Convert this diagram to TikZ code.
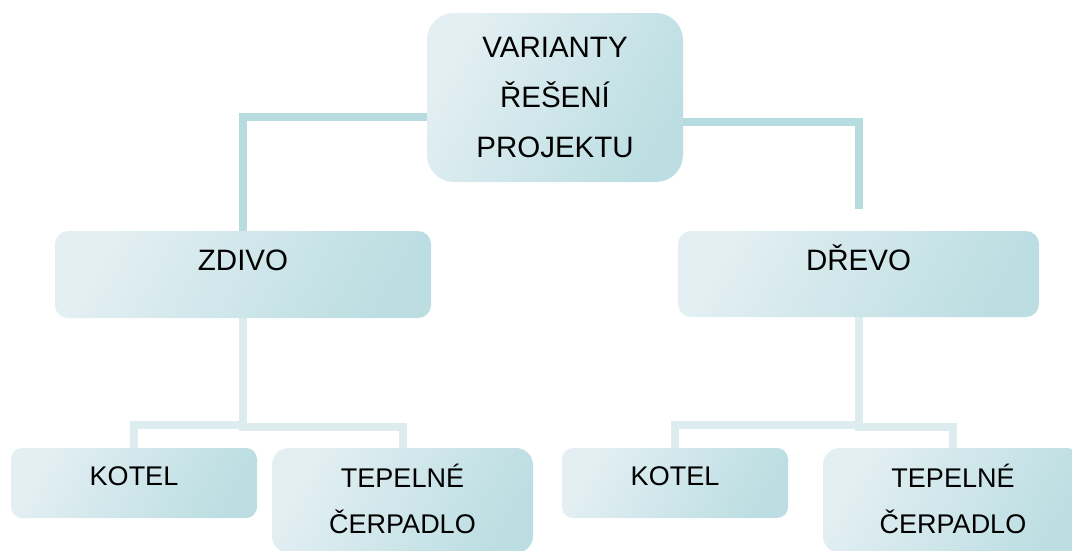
\documentclass[tikz,border=0pt]{standalone}
\usepackage{fontspec}
\setmainfont{Liberation Sans}
\usetikzlibrary{backgrounds}

\definecolor{boxL}{HTML}{E3EFF3}
\definecolor{boxR}{HTML}{BCDEE2}
\definecolor{connTop}{HTML}{B6DCE0}
\definecolor{connLow}{HTML}{DDEDEF}

\tikzset{
  box/.style={rectangle, anchor=north west, inner sep=0pt, outer sep=0pt,
    left color=boxL, right color=boxR, shading angle=60, text=black},
  bigtext/.style={font=\fontsize{29.5pt}{50pt}\selectfont},
  smalltext/.style={font=\fontsize{27pt}{46pt}\selectfont},
  conn/.style={line width=8pt},
  upper/.style={conn, draw=connTop},
  lower/.style={conn, draw=connLow},
}

\newcommand{\lines}[1]{\begin{tabular}[t]{@{}c@{}}#1\end{tabular}}

\begin{document}
\begin{tikzpicture}[x=1pt, y=-1pt]
\useasboundingbox (0,0) rectangle (1072,550);
\clip (0,0) rectangle (1072,550);

% boxes
\node[box, bigtext, minimum width=256pt, minimum height=169pt,
      text height=44.5pt, text depth=124.5pt, rounded corners=27pt]
      (root) at (427,13) {\lines{VARIANTY\\ŘEŠENÍ\\PROJEKTU}};

\node[box, bigtext, minimum width=376pt, minimum height=87pt,
      text height=39.5pt, text depth=47.5pt, rounded corners=13pt]
      (zdivo) at (55,231) {ZDIVO};
\node[box, bigtext, minimum width=361pt, minimum height=86pt,
      text height=39.5pt, text depth=46.5pt, rounded corners=13pt]
      (drevo) at (678,231) {DŘEVO};

\node[box, smalltext, minimum width=246pt, minimum height=70pt,
      text height=37pt, text depth=33pt, rounded corners=11pt]
      (kotelA) at (11,448) {KOTEL};
\node[box, smalltext, minimum width=261pt, minimum height=105pt,
      text height=39pt, text depth=66pt, rounded corners=17pt]
      (cerpA) at (272,448) {\lines{TEPELNÉ\\ČERPADLO}};
\node[box, smalltext, minimum width=226pt, minimum height=70pt,
      text height=37pt, text depth=33pt, rounded corners=11pt]
      (kotelB) at (562,448) {KOTEL};
\node[box, smalltext, minimum width=260pt, minimum height=105pt,
      text height=39pt, text depth=66pt, rounded corners=17pt]
      (cerpB) at (823,448) {\lines{TEPELNÉ\\ČERPADLO}};

\coordinate (drevoIn) at ([yshift=22pt]drevo.north);

% connectors
\begin{scope}[on background layer]
  \draw[upper] ([yshift=-19.5pt]root.west) -| (zdivo.north);
  \draw[upper] ([yshift=-24.5pt]root.east) -| (drevoIn);

  \draw[lower] (zdivo.south) |- ([yshift=23.5pt]kotelA.north) -- (kotelA.north);
  \draw[lower] (zdivo.south) |- ([yshift=21pt]cerpA.north) -- (cerpA.north);
  \draw[lower] (drevo.south) |- ([yshift=23.5pt]kotelB.north) -- (kotelB.north);
  \draw[lower] (drevo.south) |- ([yshift=21pt]cerpB.north) -- (cerpB.north);
\end{scope}
\end{tikzpicture}
\end{document}
